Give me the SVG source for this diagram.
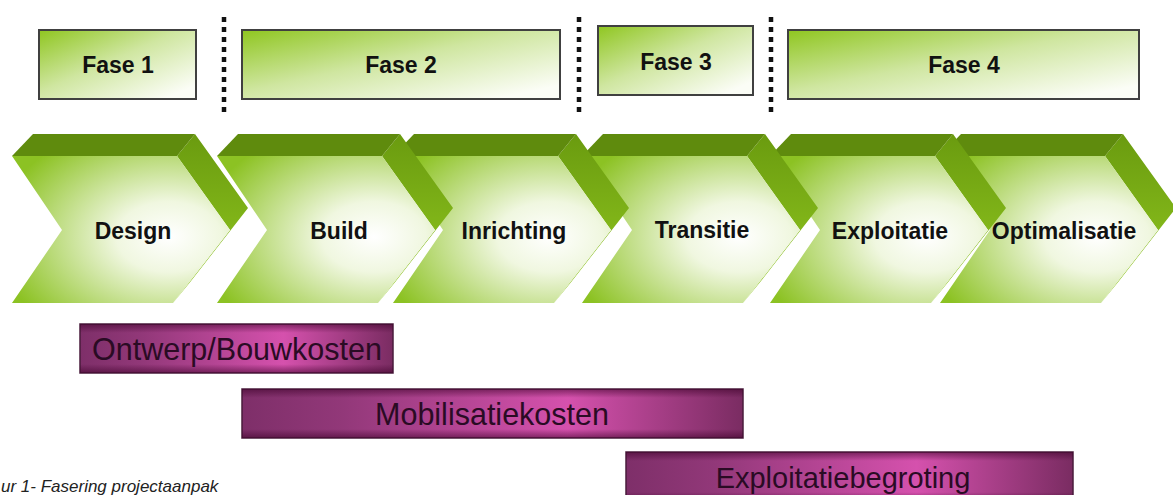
<svg xmlns="http://www.w3.org/2000/svg" xmlns:xlink="http://www.w3.org/1999/xlink" width="1173" height="495" viewBox="0 0 1173 495">
<defs>
<linearGradient id="gPhase" x1="0" y1="0" x2="1" y2="1">
<stop offset="0" stop-color="#8fc620"/>
<stop offset="0.45" stop-color="#cfe6a0"/>
<stop offset="0.9" stop-color="#fbfdf6"/>
</linearGradient>
<radialGradient id="gFront" cx="0.72" cy="0.55" r="0.8" fx="0.72" fy="0.55">
<stop offset="0" stop-color="#ffffff"/>
<stop offset="0.3" stop-color="#f0f7e0"/>
<stop offset="1" stop-color="#8cc223"/>
</radialGradient>
<linearGradient id="gSide" x1="0" y1="0" x2="0" y2="1">
<stop offset="0" stop-color="#6a9b0f"/>
<stop offset="0.5" stop-color="#7fb318"/>
<stop offset="1" stop-color="#97ca2c"/>
</linearGradient>
<linearGradient id="gCost" x1="0" y1="0" x2="1" y2="0">
<stop offset="0" stop-color="#7e2f69"/>
<stop offset="0.2" stop-color="#923879"/>
<stop offset="0.65" stop-color="#d551ad"/>
<stop offset="1" stop-color="#7a2c62"/>
</linearGradient>
<linearGradient id="gCostV" x1="0" y1="0" x2="0" y2="1">
<stop offset="0" stop-color="#3c0028" stop-opacity="0.55"/>
<stop offset="0.18" stop-color="#3c0028" stop-opacity="0"/>
<stop offset="0.82" stop-color="#3c0028" stop-opacity="0"/>
<stop offset="1" stop-color="#3c0028" stop-opacity="0.55"/>
</linearGradient>
<g id="chev">
<polygon class="side" points="165,22 183,0 236,74 179,147 161,169 218,96"/>
<polygon class="band" points="21,0 183,0 165,22 0,22"/>
<polygon class="front" points="0,22 165,22 218,96 161,169 0,169 50,96"/>
</g>
<style>
.phase rect{fill:url(#gPhase);stroke:#404040;stroke-width:2}
.ptxt{font-family:"Liberation Sans",Arial,sans-serif;font-weight:bold;font-size:23px;fill:#111;text-anchor:middle}
.band{fill:#5f8b0d}
.side{fill:url(#gSide)}
.front{fill:url(#gFront)}
.divider{stroke:#111;stroke-width:4.5;stroke-dasharray:5 5;fill:none}
.cost rect.b{fill:url(#gCost);stroke:#4a1c3c;stroke-width:1.5}
.cost rect.v{fill:url(#gCostV);stroke:none}
.ctxt{font-family:"Liberation Sans",Arial,sans-serif;font-size:30.5px;fill:#2a0b24;text-anchor:middle}
.cap{font-family:"Liberation Sans",Arial,sans-serif;font-style:italic;font-size:17px;fill:#222}
</style>
</defs>
<rect width="1173" height="495" fill="#ffffff"/>

<g id="phase1" class="phase"><rect x="39" y="30" width="157" height="69"/><text class="ptxt" x="118" y="73">Fase 1</text></g>
<g id="phase2" class="phase"><rect x="242" y="30" width="318" height="69"/><text class="ptxt" x="401" y="73">Fase 2</text></g>
<g id="phase3" class="phase"><rect x="598" y="26" width="155" height="69"/><text class="ptxt" x="676" y="70">Fase 3</text></g>
<g id="phase4" class="phase"><rect x="788" y="30" width="351" height="69"/><text class="ptxt" x="964" y="73">Fase 4</text></g>

<g id="dividers">
<line class="divider" x1="224" y1="17" x2="224" y2="113"/>
<line class="divider" x1="579" y1="17" x2="579" y2="113"/>
<line class="divider" x1="771" y1="17" x2="771" y2="113"/>
</g>

<g id="step6"><use xlink:href="#chev" x="940" y="134"/><text class="ptxt" x="1064" y="239">Optimalisatie</text></g>
<g id="step5"><use xlink:href="#chev" x="770" y="134"/><text class="ptxt" x="890" y="239">Exploitatie</text></g>
<g id="step4"><use xlink:href="#chev" x="582" y="134"/><text class="ptxt" x="702" y="238">Transitie</text></g>
<g id="step3"><use xlink:href="#chev" x="393" y="134"/><text class="ptxt" x="514" y="239">Inrichting</text></g>
<g id="step2"><use xlink:href="#chev" x="217" y="134"/><text class="ptxt" x="339" y="239">Build</text></g>
<g id="step1"><use xlink:href="#chev" x="12" y="134"/><text class="ptxt" x="133" y="239">Design</text></g>

<g id="cost1" class="cost"><rect class="b" x="80" y="324" width="313" height="49"/><rect class="v" x="80" y="324" width="313" height="49"/><text class="ctxt" x="237" y="360">Ontwerp/Bouwkosten</text></g>
<g id="cost2" class="cost"><rect class="b" x="242" y="389" width="501" height="49"/><rect class="v" x="242" y="389" width="501" height="49"/><text class="ctxt" x="492" y="425">Mobilisatiekosten</text></g>
<g id="cost3" class="cost"><rect class="b" x="626" y="452" width="447" height="49"/><rect class="v" x="626" y="452" width="447" height="49"/><text class="ctxt" x="843" y="488" style="font-size:29px">Exploitatiebegroting</text></g>

<text class="cap" x="1" y="492">ur 1-  Fasering projectaanpak</text>
</svg>
